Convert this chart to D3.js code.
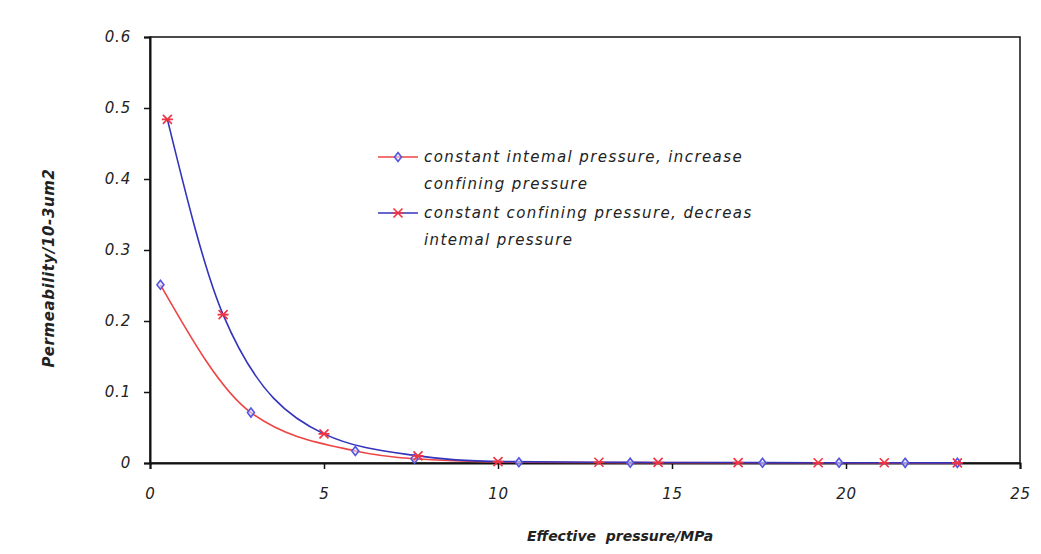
<!DOCTYPE html>
<html>
<head>
<meta charset="utf-8">
<script src="https://cdn.jsdelivr.net/npm/d3@7"></script>
<style>
  html, body { margin: 0; padding: 0; background: #fff; }
  svg { display: block; }
  text { font-family: "DejaVu Sans", Verdana, sans-serif; font-style: italic; fill: #222; }
</style>
</head>
<body>
<svg id="chart" width="1041" height="554"></svg>
<script>
// Series 1: constant internal pressure, increase confining pressure
const internalX = [0.3, 2.9, 5.9, 7.6, 10.6, 13.8, 17.6, 19.8, 21.7, 23.2];
const internalY = [0.251, 0.071, 0.017, 0.006, 0.001, 0.0005, 0.0004, 0.0003, 0.0002, 0.0002];

// Series 2: constant confining pressure, decrease internal pressure
const confiningX = [0.5, 2.1, 5.0, 7.7, 10.0, 12.9, 14.6, 16.9, 19.2, 21.1, 23.2];
const confiningY = [0.484, 0.209, 0.041, 0.01, 0.002, 0.001, 0.0008, 0.0006, 0.0004, 0.0003, 0.0002];

const xTicks = [0, 5, 10, 15, 20, 25];
const yTicks = [0, 0.1, 0.2, 0.3, 0.4, 0.5, 0.6];

const legendLabels = [
  ["constant intemal pressure, increase", "confining pressure"],
  ["constant confining pressure, decreas", "intemal pressure"]
];

const svg = d3.select("#chart");
const plotLeft = 150, plotRight = 1020, plotTop = 37, plotBottom = 463;

const x = d3.scaleLinear().domain([0, 25]).range([plotLeft, plotRight]);
const y = d3.scaleLinear().domain([0, 0.6]).range([plotBottom, plotTop]);

// plot frame
svg.append("rect")
  .attr("x", plotLeft).attr("y", plotTop)
  .attr("width", plotRight - plotLeft).attr("height", plotBottom - plotTop)
  .attr("fill", "none").attr("stroke", "#111").attr("stroke-width", 1.5);

// axes
const xAxis = svg.append("g").attr("transform", `translate(0,${plotBottom})`)
  .call(d3.axisBottom(x).tickValues(xTicks).tickSize(6).tickPadding(19).tickFormat(d3.format("d")));
const yAxis = svg.append("g").attr("transform", `translate(${plotLeft},0)`)
  .call(d3.axisLeft(y).tickValues(yTicks).tickSize(6).tickPadding(13).tickFormat(d => d === 0 ? "0" : d3.format(".1f")(d)));

[xAxis, yAxis].forEach(g => {
  g.select(".domain").attr("stroke", "#111").attr("stroke-width", 2);
  g.selectAll(".tick line").attr("stroke", "#111").attr("stroke-width", 1.5);
  g.selectAll(".tick text")
    .attr("font-family", "'DejaVu Sans', Verdana, sans-serif")
    .attr("font-style", "italic")
    .attr("font-size", 15)
    .attr("letter-spacing", 0.8)
    .attr("fill", "#222");
});

// axis titles
svg.append("text")
  .attr("x", (plotLeft + plotRight) / 2 + 35).attr("y", 541)
  .attr("text-anchor", "middle")
  .attr("font-size", 14).attr("font-weight", "bold")
  .attr("xml:space", "preserve")
  .text("Effective  pressure/MPa");

svg.append("text")
  .attr("transform", "translate(54,268) rotate(-90)")
  .attr("text-anchor", "middle")
  .attr("font-size", 15).attr("font-weight", "bold")
  .attr("letter-spacing", 0.6)
  .text("Permeability/10-3um2");

const line = d3.line()
  .x(d => x(d[0]))
  .y(d => y(d[1]))
  .curve(d3.curveMonotoneX);

const internalPts = internalX.map((v, i) => [v, internalY[i]]);
const confiningPts = confiningX.map((v, i) => [v, confiningY[i]]);

const redLine = "#ee4444", blueLine = "#3333bb";
const diamondColor = "#5555dd", starColor = "#ee3344";

svg.append("path").datum(internalPts)
  .attr("d", line).attr("fill", "none")
  .attr("stroke", redLine).attr("stroke-width", 1.6);

svg.append("path").datum(confiningPts)
  .attr("d", line).attr("fill", "none")
  .attr("stroke", blueLine).attr("stroke-width", 1.6);

// marker shapes
function diamond(g, cx, cy) {
  g.append("path")
    .attr("d", `M${cx},${cy - 4.5}L${cx + 3.5},${cy}L${cx},${cy + 4.5}L${cx - 3.5},${cy}Z`)
    .attr("fill", "#ddddff").attr("fill-opacity", 0.6)
    .attr("stroke", diamondColor).attr("stroke-width", 1.6);
}
function star(g, cx, cy) {
  const s = 4.5;
  g.append("path")
    .attr("d", `M${cx - s},${cy - s}L${cx + s},${cy + s}M${cx - s},${cy + s}L${cx + s},${cy - s}M${cx - s - 1},${cy}L${cx + s + 1},${cy}`)
    .attr("fill", "none").attr("stroke", starColor).attr("stroke-width", 1.6);
}

const marks = svg.append("g");
internalPts.forEach(p => diamond(marks, x(p[0]), y(p[1])));
confiningPts.forEach(p => star(marks, x(p[0]), y(p[1])));

// legend
const legend = svg.append("g");
const entries = [
  { color: redLine, marker: diamond, y: 157 },
  { color: blueLine, marker: star, y: 213 }
];
entries.forEach((e, i) => {
  legend.append("line")
    .attr("x1", 378).attr("x2", 418).attr("y1", e.y).attr("y2", e.y)
    .attr("stroke", e.color).attr("stroke-width", 1.6);
  e.marker(legend, 398, e.y);
  legendLabels[i].forEach((t, j) => {
    legend.append("text")
      .attr("x", 424).attr("y", e.y + 5 + j * 27)
      .attr("font-size", 15)
      .attr("letter-spacing", 1.4)
      .text(t);
  });
});
</script>
</body>
</html>
